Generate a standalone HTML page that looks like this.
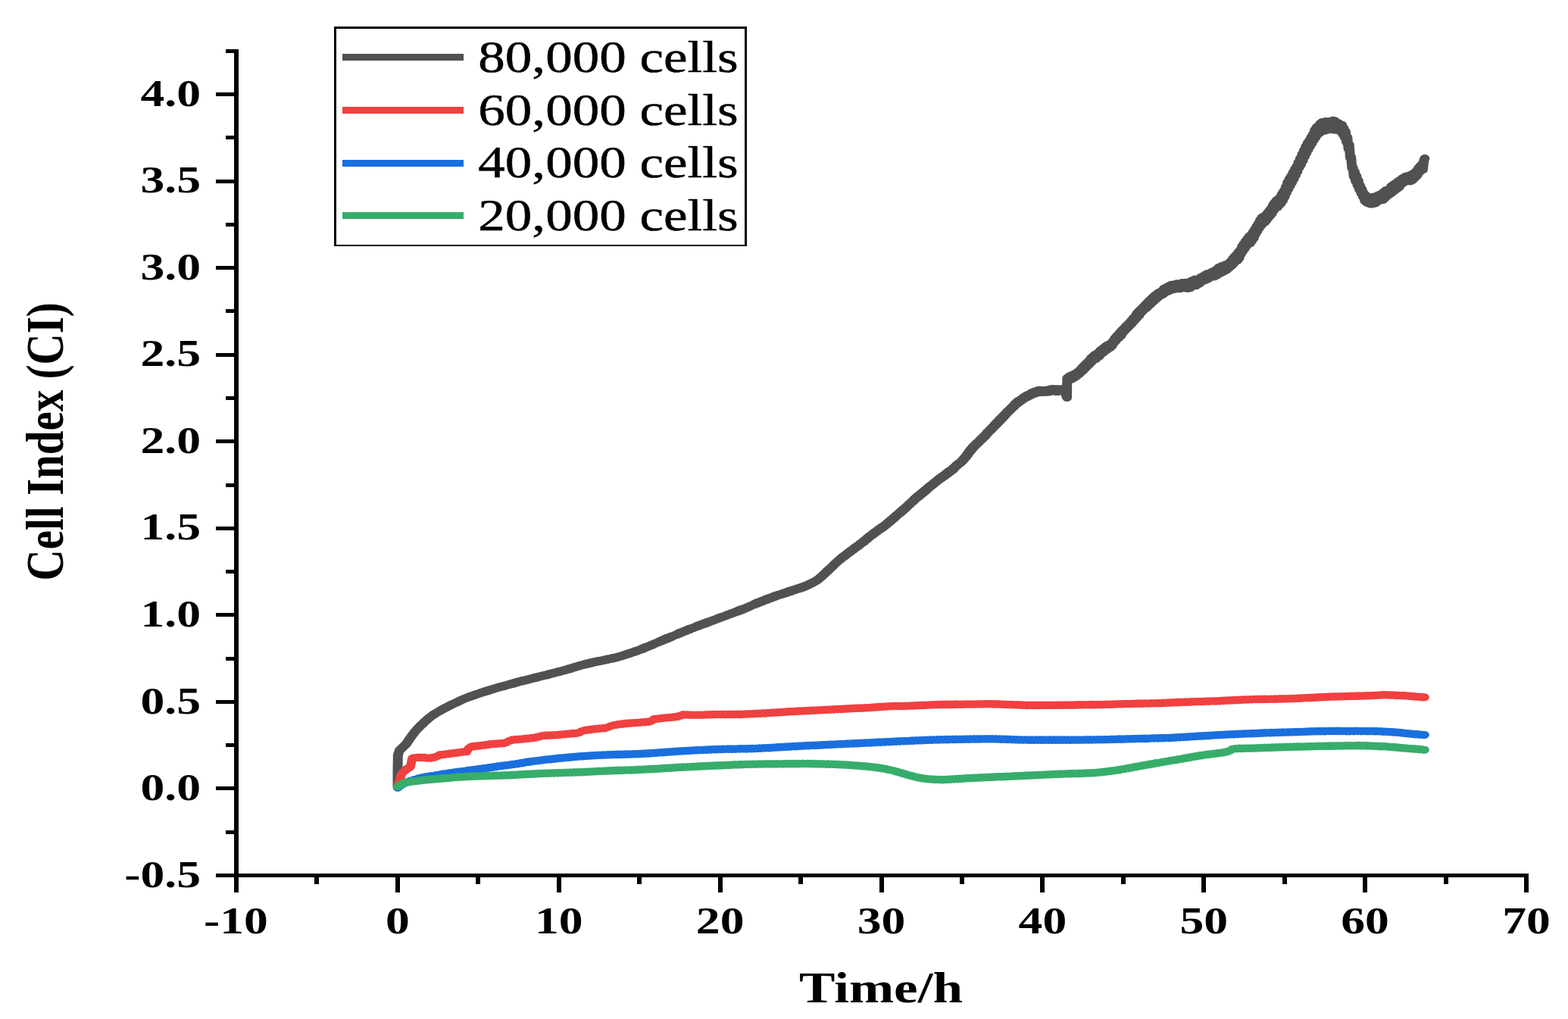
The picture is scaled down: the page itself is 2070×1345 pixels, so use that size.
<!DOCTYPE html>
<html lang="en">
<head>
<meta charset="utf-8">
<title>Cell Index (CI) vs Time/h</title>
<style>html,body{margin:0;padding:0;background:#fff;width:2070px;height:1345px;}svg{display:block;}text{font-family:"Liberation Serif","DejaVu Serif",serif;fill:#000;}.b{font-weight:bold;}.r{stroke:#000;stroke-width:0.5px;}</style>
</head>
<body>
<svg width="2070" height="1345" viewBox="0 0 1725.0000 1345" preserveAspectRatio="none">
<rect x="0" y="0" width="1725.0000" height="1345" fill="#ffffff"/>
<g fill="none" stroke-linecap="round" stroke-linejoin="round">
<path d="M437.5,1039.0 L437.5,1013.3 L437.8,996.7 L439.6,990.3 L447.2,981.7 L448.2,979.5 L449.2,978.1 L450.2,975.9 L451.2,974.6 L452.2,972.4 L453.2,971.3 L454.2,969.2 L455.2,968.1 L456.2,966.0 L457.2,965.1 L458.2,963.2 L459.2,962.4 L460.2,960.6 L461.2,959.9 L462.2,958.2 L463.2,957.6 L464.2,955.9 L465.2,955.4 L466.2,953.7 L467.2,953.1 L468.2,951.4 L469.2,950.9 L470.2,949.2 L471.2,948.7 L472.2,947.2 L473.2,946.8 L474.2,945.4 L475.2,945.1 L476.2,943.6 L477.2,943.4 L478.2,942.1 L479.2,941.9 L480.2,940.7 L481.2,940.4 L482.2,939.2 L483.2,938.9 L484.2,937.8 L485.2,937.7 L486.2,936.4 L487.2,936.4 L488.2,935.1 L489.2,935.1 L490.2,933.8 L491.2,933.8 L492.2,932.6 L493.2,932.6 L494.2,931.4 L495.2,931.3 L496.2,930.2 L497.2,930.1 L498.2,929.1 L499.2,929.0 L500.2,928.0 L501.2,927.9 L502.2,926.9 L503.2,926.8 L504.2,925.7 L505.2,925.6 L506.2,924.5 L507.2,924.5 L508.2,923.4 L509.2,923.4 L510.2,922.3 L511.2,922.4 L512.2,921.3 L513.2,921.4 L514.2,920.3 L515.2,920.5 L516.2,919.5 L517.2,919.6 L518.2,918.6 L519.2,918.8 L520.2,917.8 L521.2,918.0 L522.2,916.9 L523.2,917.1 L524.2,916.1 L525.2,916.3 L526.2,915.3 L527.2,915.5 L528.2,914.5 L529.2,914.7 L530.2,913.8 L531.2,913.9 L532.2,913.0 L533.2,913.1 L534.2,912.2 L535.2,912.5 L536.2,911.4 L537.2,911.8 L538.2,910.7 L539.2,911.0 L540.2,910.0 L541.2,910.2 L542.2,909.2 L543.2,909.5 L544.2,908.5 L545.2,908.7 L546.2,907.8 L547.2,908.0 L548.2,907.1 L549.2,907.3 L550.2,906.5 L551.2,906.7 L552.2,905.8 L553.2,906.0 L554.2,905.2 L555.2,905.5 L556.2,904.6 L557.2,904.8 L558.2,903.9 L559.2,904.1 L560.2,903.2 L561.2,903.4 L562.2,902.5 L563.2,902.8 L564.2,901.8 L565.2,902.2 L566.2,901.1 L567.2,901.5 L568.2,900.5 L569.2,900.8 L570.2,899.7 L571.2,900.0 L572.2,899.1 L573.2,899.4 L574.2,898.5 L575.2,899.0 L576.2,898.1 L577.2,898.4 L578.2,897.5 L579.2,897.8 L580.2,896.9 L581.2,897.2 L582.1,896.3 L583.1,896.6 L584.1,895.7 L585.1,895.9 L586.1,894.9 L587.1,895.3 L588.1,894.3 L589.1,894.7 L590.1,893.9 L591.1,894.2 L592.1,893.3 L593.1,893.6 L594.1,892.7 L595.1,892.8 L596.1,892.0 L597.1,892.2 L598.1,891.4 L599.1,891.6 L600.1,890.9 L601.1,891.3 L602.1,890.3 L603.1,890.7 L604.1,889.7 L605.1,889.9 L606.1,889.0 L607.1,889.3 L608.1,888.4 L609.1,888.7 L610.1,887.8 L611.1,888.0 L612.1,887.2 L613.1,887.4 L614.1,886.5 L615.1,886.9 L616.1,886.0 L617.1,886.3 L618.1,885.4 L619.1,885.6 L620.1,884.7 L621.1,885.0 L622.1,884.0 L623.1,884.3 L624.1,883.3 L625.1,883.6 L626.1,882.5 L627.1,882.9 L628.1,881.8 L629.1,882.2 L630.1,881.1 L631.1,881.4 L632.1,880.3 L633.1,880.6 L634.1,879.6 L635.1,879.9 L636.1,878.9 L637.1,879.2 L638.1,878.2 L639.1,878.5 L640.1,877.6 L641.1,877.9 L642.1,876.9 L643.1,877.2 L644.1,876.3 L645.1,876.8 L646.1,875.8 L647.1,876.2 L648.1,875.2 L649.1,875.6 L650.1,874.5 L651.1,875.0 L652.1,873.9 L653.1,874.4 L654.1,873.4 L655.1,873.8 L656.1,872.9 L657.1,873.4 L658.1,872.5 L659.1,872.9 L660.1,872.1 L661.1,872.6 L662.1,871.7 L663.1,872.1 L664.1,871.2 L665.1,871.5 L666.1,870.5 L667.1,871.0 L668.1,870.0 L669.1,870.5 L670.1,869.6 L671.1,869.9 L672.1,869.1 L673.1,869.4 L674.1,868.5 L675.1,869.0 L676.1,868.1 L677.1,868.4 L678.1,867.5 L679.1,867.8 L680.1,866.8 L681.1,867.1 L682.1,866.2 L683.1,866.4 L684.1,865.4 L685.1,865.7 L686.1,864.6 L687.1,864.9 L688.1,863.8 L689.1,864.1 L690.1,863.0 L691.1,863.3 L692.1,862.2 L693.1,862.5 L694.1,861.4 L695.1,861.7 L696.1,860.6 L697.1,860.9 L698.1,859.8 L699.1,860.1 L700.1,859.1 L701.1,859.3 L702.1,858.2 L703.1,858.4 L704.1,857.3 L705.1,857.5 L706.1,856.2 L707.1,856.6 L708.1,855.3 L709.1,855.6 L710.1,854.3 L711.1,854.5 L712.1,853.4 L713.1,853.5 L714.1,852.4 L715.1,852.7 L716.1,851.4 L717.1,851.7 L718.1,850.4 L719.1,850.7 L720.1,849.3 L721.1,849.4 L722.1,848.3 L723.1,848.4 L724.1,847.3 L725.1,847.6 L726.1,846.3 L727.1,846.6 L728.1,845.2 L729.1,845.6 L730.1,844.1 L731.1,844.5 L732.1,843.1 L733.1,843.5 L734.1,842.1 L735.1,842.6 L736.1,841.3 L737.1,841.6 L738.1,840.3 L739.1,840.6 L740.1,839.3 L741.1,839.4 L742.1,838.3 L743.1,838.4 L744.1,837.3 L745.1,837.5 L746.1,836.1 L747.1,836.5 L748.1,835.1 L749.1,835.5 L750.1,834.2 L751.1,834.5 L752.1,833.2 L753.1,833.5 L754.1,832.3 L755.1,832.6 L756.1,831.3 L757.1,831.6 L758.1,830.3 L759.1,830.7 L760.1,829.5 L761.1,829.7 L762.1,828.6 L763.1,828.8 L764.1,827.7 L765.1,827.9 L766.1,826.6 L767.1,827.0 L768.0,825.7 L769.0,826.1 L770.0,824.8 L771.0,825.1 L772.0,823.9 L773.0,824.2 L774.0,823.1 L775.0,823.5 L776.0,822.2 L777.0,822.6 L778.0,821.3 L779.0,821.7 L780.0,820.5 L781.0,820.8 L782.0,819.6 L783.0,819.9 L784.0,818.7 L785.0,819.0 L786.0,817.9 L787.0,818.1 L788.0,817.0 L789.0,817.2 L790.0,815.9 L791.0,816.2 L792.0,815.0 L793.0,815.3 L794.0,814.1 L795.0,814.4 L796.0,813.4 L797.0,813.6 L798.0,812.5 L799.0,812.7 L800.0,811.5 L801.0,811.8 L802.0,810.6 L803.0,810.9 L804.0,809.7 L805.0,810.0 L806.0,808.9 L807.0,809.1 L808.0,808.0 L809.0,808.2 L810.0,807.0 L811.0,807.4 L812.0,806.0 L813.0,806.5 L814.0,805.1 L815.0,805.6 L816.0,804.3 L817.0,804.7 L818.0,803.4 L819.0,803.7 L820.0,802.4 L821.0,802.7 L822.0,801.4 L823.0,801.7 L824.0,800.4 L825.0,800.5 L826.0,799.3 L827.0,799.4 L828.0,798.3 L829.0,798.4 L830.0,797.1 L831.0,797.5 L832.0,796.1 L833.0,796.5 L834.0,795.1 L835.0,795.7 L836.0,794.3 L837.0,794.7 L838.0,793.3 L839.0,793.7 L840.0,792.2 L841.0,792.6 L842.0,791.3 L843.0,791.7 L844.0,790.4 L845.0,790.9 L846.0,789.6 L847.0,790.0 L848.0,788.7 L849.0,789.1 L850.0,787.8 L851.0,788.3 L852.0,786.9 L853.0,787.4 L854.0,786.0 L855.0,786.5 L856.0,785.2 L857.0,785.6 L858.0,784.4 L859.0,784.8 L860.0,783.7 L861.0,784.2 L862.0,782.9 L863.0,783.4 L864.0,782.0 L865.0,782.6 L866.0,781.3 L867.0,781.7 L868.0,780.4 L869.0,780.9 L870.0,779.6 L871.0,780.1 L872.0,778.8 L873.0,779.4 L874.0,778.0 L875.0,778.6 L876.0,777.2 L877.0,777.7 L878.0,776.5 L879.0,777.0 L880.0,775.7 L881.0,776.4 L882.0,775.0 L883.0,775.5 L884.0,774.1 L885.0,774.6 L886.0,773.1 L887.0,773.5 L888.0,772.1 L889.0,772.4 L890.0,771.0 L891.0,771.4 L892.0,770.0 L893.0,770.2 L894.0,768.7 L895.0,768.9 L896.0,767.4 L897.0,767.5 L898.0,765.9 L899.0,766.0 L900.0,764.3 L901.0,764.3 L902.0,762.4 L903.0,762.3 L904.0,760.4 L905.0,760.2 L906.0,758.1 L907.0,757.8 L908.0,755.8 L909.0,755.5 L910.0,753.5 L911.0,753.5 L912.0,751.4 L913.0,751.2 L914.0,749.2 L915.0,749.0 L916.0,746.8 L917.0,746.5 L918.0,744.5 L919.0,744.2 L920.0,742.2 L921.0,742.0 L922.0,740.1 L923.0,740.0 L924.0,738.1 L925.0,738.0 L926.0,736.0 L927.0,736.1 L928.0,734.2 L929.0,734.3 L930.0,732.3 L931.0,732.4 L932.0,730.5 L933.0,730.7 L934.0,728.7 L935.0,728.9 L936.0,726.9 L937.0,727.1 L938.0,725.1 L939.0,725.3 L940.0,723.3 L941.0,723.6 L942.0,721.7 L943.0,721.7 L944.0,719.8 L945.0,719.9 L946.0,718.0 L947.0,718.1 L948.0,716.1 L949.0,716.3 L950.0,714.2 L951.0,714.5 L952.0,712.2 L953.0,712.6 L953.9,710.3 L954.9,710.8 L955.9,708.5 L956.9,708.6 L957.9,706.7 L958.9,706.8 L959.9,704.8 L960.9,705.1 L961.9,702.9 L962.9,703.4 L963.9,701.1 L964.9,701.6 L965.9,699.4 L966.9,699.7 L967.9,697.7 L968.9,698.0 L969.9,695.9 L970.9,696.6 L971.9,694.3 L972.9,694.8 L973.9,692.5 L974.9,693.0 L975.9,690.4 L976.9,691.0 L977.9,688.4 L978.9,689.1 L979.9,686.4 L980.9,687.0 L981.9,684.4 L982.9,684.9 L983.9,682.3 L984.9,682.8 L985.9,680.2 L986.9,680.6 L987.9,678.1 L988.9,678.5 L989.9,676.0 L990.9,676.8 L991.9,674.0 L992.9,674.7 L993.9,671.8 L994.9,672.5 L995.9,669.8 L996.9,670.3 L997.9,667.7 L998.9,668.1 L999.9,665.5 L1000.9,665.7 L1001.9,663.2 L1002.9,663.6 L1003.9,661.0 L1004.9,661.5 L1005.9,658.6 L1006.9,659.2 L1007.9,656.5 L1008.9,657.1 L1009.9,654.4 L1010.9,655.5 L1011.9,652.6 L1012.9,653.5 L1013.9,650.6 L1014.9,651.5 L1015.9,648.5 L1016.9,649.5 L1017.9,646.5 L1018.9,647.5 L1019.9,644.5 L1020.9,645.0 L1021.9,642.5 L1022.9,643.1 L1023.9,640.6 L1024.9,641.2 L1025.9,638.7 L1026.9,639.4 L1027.9,636.8 L1028.9,637.5 L1029.9,634.8 L1030.9,635.5 L1031.9,632.8 L1032.9,633.6 L1033.9,630.9 L1034.9,631.8 L1035.9,629.3 L1036.9,630.3 L1037.9,627.6 L1038.9,628.6 L1039.9,625.8 L1040.9,626.8 L1041.9,623.8 L1042.9,625.0 L1043.9,622.0 L1044.9,623.2 L1045.9,620.6 L1046.9,621.5 L1047.9,618.6 L1048.9,619.6 L1049.9,616.6 L1050.9,616.9 L1051.9,614.2 L1052.9,614.8 L1053.9,612.1 L1054.9,612.7 L1055.9,610.4 L1056.9,610.9 L1057.9,608.1 L1058.9,608.6 L1059.9,605.6 L1060.9,606.1 L1061.9,602.7 L1062.9,603.3 L1063.9,599.5 L1064.9,600.0 L1065.9,595.9 L1066.9,596.6 L1067.9,592.9 L1068.9,593.8 L1069.9,590.2 L1070.9,590.9 L1071.9,587.8 L1072.9,588.4 L1073.9,585.4 L1074.9,586.1 L1075.9,583.3 L1076.9,583.9 L1077.9,580.9 L1078.9,581.5 L1079.9,578.5 L1080.9,579.4 L1081.9,576.2 L1082.9,577.0 L1083.9,573.8 L1084.9,574.6 L1085.9,571.0 L1086.9,571.6 L1087.9,568.5 L1088.9,569.1 L1089.9,566.0 L1090.9,567.1 L1091.9,563.6 L1092.9,564.5 L1093.9,561.1 L1094.9,562.0 L1095.9,558.4 L1096.9,559.6 L1097.9,555.9 L1098.9,557.0 L1099.9,553.3 L1100.9,554.7 L1101.9,550.8 L1102.9,552.2 L1103.9,548.3 L1104.9,549.7 L1105.9,546.0 L1106.9,546.9 L1107.9,543.6 L1108.9,544.5 L1109.9,541.3 L1110.9,542.0 L1111.9,538.8 L1112.9,539.7 L1113.9,536.6 L1114.9,537.5 L1115.9,533.8 L1116.9,535.0 L1117.9,531.6 L1118.9,532.9 L1119.9,529.5 L1120.9,531.2 L1121.9,528.2 L1122.9,529.5 L1123.9,526.5 L1124.9,527.8 L1125.9,524.6 L1126.9,526.1 L1127.9,523.1 L1128.9,524.6 L1129.9,521.7 L1130.9,523.6 L1131.9,520.6 L1132.9,522.3 L1133.9,519.2 L1134.9,521.0 L1135.9,517.9 L1136.9,520.0 L1137.9,517.0 L1138.9,519.2 L1139.8,516.2 L1140.8,518.4 L1141.8,515.4 L1142.8,517.9 L1143.8,515.0 L1144.8,517.6 L1145.8,515.4 L1146.8,517.5 L1147.8,515.3 L1148.8,517.4 L1149.8,515.2 L1150.8,517.5 L1151.8,514.8 L1152.8,517.3 L1153.8,514.5 L1154.8,517.0 L1155.8,513.7 L1156.8,516.0 L1157.8,513.5 L1158.8,516.0 L1159.8,513.5 L1160.8,516.5 L1161.8,513.7 L1162.8,516.5 L1163.8,513.6 L1164.8,516.5 L1165.8,513.6 L1166.8,516.2 L1167.8,513.6 L1168.8,516.2 L1169.8,513.6 L1170.8,515.0 L1173.8,524.6 L1174.0,499.0 L1175.4,499.2 L1176.4,496.7 L1177.4,501.1 L1178.4,495.6 L1179.4,499.9 L1180.4,494.7 L1181.4,498.6 L1182.4,493.5 L1183.4,497.3 L1184.4,492.2 L1185.4,495.3 L1186.4,490.3 L1187.4,493.4 L1188.4,488.2 L1189.4,491.1 L1190.4,485.4 L1191.4,489.2 L1192.4,482.8 L1193.4,486.7 L1194.4,480.5 L1195.4,484.2 L1196.4,478.1 L1197.4,481.9 L1198.4,475.8 L1199.4,479.6 L1200.4,472.7 L1201.4,476.9 L1202.4,470.5 L1203.4,474.7 L1204.4,468.3 L1205.4,473.8 L1206.4,467.3 L1207.4,471.8 L1208.4,465.3 L1209.4,469.9 L1210.4,462.9 L1211.4,467.2 L1212.4,461.0 L1213.4,465.4 L1214.4,459.2 L1215.4,463.5 L1216.4,457.1 L1217.4,461.8 L1218.4,455.5 L1219.4,460.1 L1220.4,454.9 L1221.4,458.5 L1222.4,452.9 L1223.4,456.4 L1224.4,450.5 L1225.4,452.8 L1226.4,446.7 L1227.4,450.0 L1228.4,443.8 L1229.4,447.1 L1230.4,441.3 L1231.4,445.3 L1232.4,438.5 L1233.4,442.6 L1234.4,435.8 L1235.4,439.1 L1236.4,433.6 L1237.4,436.4 L1238.4,430.9 L1239.4,433.8 L1240.4,428.7 L1241.4,431.6 L1242.4,426.1 L1243.4,429.0 L1244.4,423.4 L1245.4,426.5 L1246.4,420.7 L1247.4,423.9 L1248.4,418.1 L1249.4,421.3 L1250.4,414.2 L1251.4,418.6 L1252.4,411.6 L1253.4,416.0 L1254.4,409.0 L1255.4,412.6 L1256.4,406.8 L1257.4,410.1 L1258.4,404.3 L1259.4,407.7 L1260.4,401.8 L1261.4,406.3 L1262.4,399.3 L1263.4,403.8 L1264.4,396.8 L1265.4,401.8 L1266.4,394.8 L1267.4,399.4 L1268.4,392.4 L1269.4,397.1 L1270.4,390.4 L1271.4,394.9 L1272.4,388.4 L1273.4,393.0 L1274.4,386.6 L1275.4,391.0 L1276.4,385.4 L1277.4,389.5 L1278.4,384.0 L1279.4,388.2 L1280.4,381.1 L1281.4,386.3 L1282.4,379.8 L1283.4,385.0 L1284.4,378.6 L1285.4,384.2 L1286.4,377.3 L1287.4,383.1 L1288.4,376.2 L1289.4,382.1 L1290.4,376.1 L1291.4,381.6 L1292.4,375.3 L1293.4,381.0 L1294.4,374.7 L1295.4,381.0 L1296.4,374.7 L1297.4,380.8 L1298.4,374.4 L1299.4,380.6 L1300.4,373.5 L1301.4,379.3 L1302.4,373.3 L1303.4,379.1 L1304.4,373.1 L1305.4,380.5 L1306.4,373.2 L1307.4,380.3 L1308.4,372.8 L1309.4,379.9 L1310.4,371.1 L1311.4,377.9 L1312.4,370.2 L1313.4,376.9 L1314.4,369.0 L1315.4,376.9 L1316.4,369.6 L1317.4,375.6 L1318.4,368.3 L1319.4,374.3 L1320.4,366.6 L1321.4,372.0 L1322.4,365.4 L1323.4,370.8 L1324.4,364.2 L1325.4,370.0 L1326.4,362.5 L1327.4,368.8 L1328.4,361.3 L1329.4,367.6 L1330.4,360.8 L1331.4,366.0 L1332.4,359.6 L1333.4,364.8 L1334.4,358.3 L1335.4,365.0 L1336.4,357.2 L1337.4,363.8 L1338.4,356.1 L1339.4,362.8 L1340.4,353.4 L1341.4,360.9 L1342.4,352.3 L1343.4,359.8 L1344.4,351.2 L1345.4,358.7 L1346.4,350.7 L1347.4,357.4 L1348.4,349.3 L1349.4,356.0 L1350.4,348.6 L1351.4,354.1 L1352.4,346.7 L1353.4,352.1 L1354.4,344.5 L1355.4,349.9 L1356.4,341.3 L1357.4,347.4 L1358.4,338.6 L1359.4,344.7 L1360.4,336.0 L1361.4,343.5 L1362.4,333.0 L1363.4,340.5 L1364.4,329.9 L1365.4,335.0 L1366.4,325.2 L1367.4,331.2 L1368.4,321.6 L1369.4,327.9 L1370.4,318.1 L1371.4,324.4 L1372.4,315.0 L1373.4,321.4 L1374.4,312.0 L1375.4,320.8 L1376.4,309.8 L1377.4,317.6 L1378.4,306.4 L1379.4,314.1 L1380.4,302.7 L1381.4,308.6 L1382.4,298.7 L1383.4,304.8 L1384.4,294.9 L1385.4,300.8 L1386.4,290.1 L1387.4,297.6 L1388.4,287.0 L1389.4,294.7 L1390.4,286.7 L1391.4,293.1 L1392.4,284.0 L1393.4,290.4 L1394.4,281.2 L1395.4,287.2 L1396.4,278.2 L1397.4,284.4 L1398.4,275.2 L1399.4,281.5 L1400.4,270.4 L1401.4,277.4 L1402.4,267.4 L1403.4,274.5 L1404.4,264.5 L1405.4,273.2 L1406.4,262.8 L1407.4,270.6 L1408.4,260.2 L1409.4,267.9 L1410.4,255.7 L1411.4,264.2 L1412.4,251.8 L1413.4,259.7 L1414.4,246.8 L1415.4,254.1 L1416.4,240.7 L1417.4,249.3 L1418.4,236.1 L1419.4,245.0 L1420.4,232.3 L1421.4,240.5 L1422.4,227.9 L1423.4,236.2 L1424.4,223.4 L1425.4,231.3 L1426.4,219.4 L1427.4,226.2 L1428.4,214.0 L1429.4,220.8 L1430.4,208.9 L1431.4,216.8 L1432.4,203.7 L1433.4,211.8 L1434.4,198.7 L1435.4,206.3 L1436.4,193.4 L1437.4,201.6 L1438.4,188.8 L1439.4,197.1 L1440.4,185.4 L1441.4,192.8 L1442.4,181.2 L1443.4,188.7 L1444.4,177.1 L1445.4,184.7 L1446.4,171.5 L1447.4,181.2 L1448.4,168.0 L1449.4,177.6 L1450.4,166.1 L1451.4,175.5 L1452.4,163.1 L1453.4,173.1 L1454.4,161.5 L1455.4,172.9 L1456.4,161.2 L1457.4,172.2 L1458.4,160.5 L1459.4,171.6 L1460.4,160.8 L1461.4,170.4 L1462.4,160.5 L1463.4,170.2 L1464.4,160.4 L1465.4,170.9 L1466.4,159.2 L1467.4,171.0 L1468.4,159.7 L1469.4,171.3 L1470.4,161.7 L1471.4,171.3 L1472.4,162.5 L1473.4,172.2 L1474.4,164.3 L1475.4,174.0 L1476.4,165.0 L1477.4,177.5 L1478.4,169.3 L1479.4,181.7 L1480.4,174.0 L1481.4,187.9 L1482.4,181.5 L1483.4,196.3 L1484.4,191.4 L1485.4,208.4 L1486.4,207.2 L1487.4,222.0 L1488.4,221.2 L1489.4,233.4 L1490.4,226.9 L1491.4,239.2 L1492.4,232.7 L1493.4,244.9 L1494.4,238.6 L1495.4,249.9 L1496.4,245.3 L1497.4,255.1 L1498.4,250.1 L1499.4,259.7 L1500.4,255.3 L1501.4,264.9 L1502.4,257.8 L1503.4,267.0 L1504.4,259.8 L1505.4,268.2 L1506.4,261.6 L1507.4,269.2 L1508.4,262.1 L1509.4,269.2 L1510.4,260.2 L1511.4,268.7 L1512.4,259.7 L1513.4,268.0 L1514.4,259.0 L1515.4,265.5 L1516.4,257.9 L1517.4,264.6 L1518.4,256.7 L1519.4,263.0 L1520.4,255.5 L1521.4,263.6 L1522.4,253.5 L1523.4,261.5 L1524.4,251.5 L1525.4,259.1 L1526.4,251.5 L1527.4,257.4 L1528.4,249.8 L1529.4,255.7 L1530.4,246.1 L1531.4,253.8 L1532.4,244.5 L1533.4,252.1 L1534.4,242.8 L1535.4,250.2 L1536.4,241.1 L1537.4,248.4 L1538.4,239.3 L1539.4,246.6 L1540.4,237.6 L1541.4,243.2 L1542.4,235.9 L1543.4,241.6 L1544.4,234.4 L1545.4,240.1 L1546.4,233.2 L1547.4,239.1 L1548.4,232.3 L1549.4,238.2 L1550.4,231.8 L1551.4,239.0 L1552.4,230.8 L1553.4,237.8 L1554.4,229.5 L1555.4,235.8 L1556.4,228.1 L1557.4,233.6 L1558.4,225.7 L1559.4,231.0 L1560.4,222.0 L1561.4,227.3 L1562.4,219.3 L1563.4,224.9 L1564.4,216.7 L1565.4,223.9 L1566.4,212.4 L1567.4,209.2" stroke="#515151" stroke-width="10.8"/>
<path d="M437.5,1039.0 L439.5,1030.5 L441.5,1022.6 L443.5,1019.0 L445.5,1017.4 L447.5,1014.5 L449.5,1013.9 L451.5,1012.0 L453.5,1001.0 L455.5,1000.2 L457.5,1000.4 L459.5,999.7 L461.5,1000.1 L463.5,999.5 L465.5,1000.1 L467.5,999.7 L469.5,1000.7 L471.5,1000.4 L473.5,1000.8 L475.5,999.8 L477.5,999.9 L479.5,998.7 L481.5,998.0 L483.5,996.3 L485.5,996.5 L487.5,995.7 L489.5,995.9 L491.5,995.0 L493.5,995.3 L495.5,994.3 L497.5,994.7 L499.5,993.8 L501.5,994.1 L503.5,993.2 L505.5,993.5 L507.5,992.6 L509.5,992.8 L511.5,991.9 L513.5,992.2 L515.5,987.9 L517.5,986.0 L519.5,985.0 L521.5,985.5 L523.5,984.5 L525.5,984.9 L527.5,984.0 L529.5,984.2 L531.5,983.3 L533.5,983.7 L535.5,982.7 L537.5,983.0 L539.5,982.0 L541.5,982.4 L543.5,981.6 L545.5,982.0 L547.5,981.3 L549.5,981.6 L551.5,980.9 L553.5,981.3 L555.5,980.5 L557.5,979.9 L559.5,978.1 L561.5,977.6 L563.5,976.3 L565.5,976.7 L567.5,975.8 L569.5,976.3 L571.5,975.6 L573.5,975.9 L575.5,975.1 L577.5,975.5 L579.5,974.6 L581.5,974.9 L583.5,974.0 L585.5,974.4 L587.5,973.5 L589.5,973.8 L591.5,972.6 L593.5,972.5 L595.5,971.3 L597.5,971.2 L599.5,970.6 L601.5,971.0 L603.5,970.3 L605.5,970.8 L607.5,970.1 L609.5,970.6 L611.5,969.9 L613.5,970.2 L615.5,969.5 L617.5,969.8 L619.5,969.1 L621.5,969.4 L623.5,968.5 L625.5,968.9 L627.5,968.1 L629.5,968.5 L631.5,967.8 L633.5,968.2 L635.5,967.3 L637.5,967.1 L639.5,965.3 L641.5,964.6 L643.5,963.7 L645.5,963.9 L647.5,963.0 L649.5,963.3 L651.5,962.3 L653.5,962.7 L655.5,961.8 L657.5,962.2 L659.5,961.3 L661.5,961.7 L663.5,960.9 L665.5,961.2 L667.5,960.2 L669.5,959.8 L671.5,958.3 L673.5,957.9 L675.5,956.9 L677.5,957.1 L679.5,956.1 L681.5,956.3 L683.5,955.4 L685.5,955.7 L687.5,954.7 L689.5,955.2 L691.5,954.3 L693.5,954.8 L695.5,954.1 L697.5,954.4 L699.5,953.8 L701.5,954.1 L703.5,953.4 L705.5,953.8 L707.5,952.9 L709.5,953.4 L711.5,952.5 L713.5,953.0 L715.5,952.1 L717.5,951.0 L719.5,949.0 L721.5,949.3 L723.5,948.4 L725.5,948.6 L727.5,947.7 L729.5,948.1 L731.5,947.3 L733.5,947.6 L735.5,946.9 L737.5,947.2 L739.5,946.4 L741.5,946.7 L743.5,945.8 L745.5,946.2 L747.5,944.8 L749.5,944.5 L751.5,943.1 L753.5,943.8 L755.5,943.2 L757.5,943.8 L759.5,943.4 L761.5,944.0 L763.5,943.5 L765.5,944.0 L767.5,943.5 L769.5,943.9 L771.5,943.4 L773.5,943.8 L775.5,943.2 L777.5,943.7 L779.5,943.0 L781.5,943.5 L783.5,942.9 L785.5,943.4 L787.5,942.7 L789.5,943.3 L791.5,942.7 L793.5,943.3 L795.5,942.7 L797.5,943.4 L799.5,942.7 L801.5,943.2 L803.5,942.7 L805.5,943.2 L807.5,942.5 L809.5,943.1 L811.5,942.6 L813.5,943.2 L815.5,942.5 L817.5,943.0 L819.5,942.3 L821.5,942.8 L823.5,942.1 L825.5,942.6 L827.5,941.9 L829.5,942.4 L831.5,941.7 L833.5,942.2 L835.5,941.4 L837.5,941.9 L839.5,941.1 L841.5,941.8 L843.5,941.0 L845.4,941.3 L847.4,940.7 L849.4,941.0 L851.4,940.3 L853.4,940.8 L855.4,940.1 L857.4,940.5 L859.4,939.8 L861.4,940.2 L863.4,939.5 L865.4,939.8 L867.4,939.0 L869.4,939.5 L871.4,938.8 L873.4,939.3 L875.4,938.6 L877.4,939.0 L879.4,938.3 L881.4,938.8 L883.4,938.1 L885.4,938.7 L887.4,937.9 L889.4,938.4 L891.4,937.6 L893.4,938.0 L895.4,937.4 L897.4,937.9 L899.4,937.2 L901.4,937.6 L903.4,937.0 L905.4,937.3 L907.4,936.7 L909.4,937.1 L911.4,936.5 L913.4,936.9 L915.4,936.2 L917.4,936.7 L919.4,935.9 L921.4,936.4 L923.4,935.7 L925.4,936.3 L927.4,935.5 L929.4,936.0 L931.4,935.2 L933.4,935.7 L935.4,934.9 L937.4,935.4 L939.4,934.6 L941.4,935.1 L943.4,934.5 L945.4,935.0 L947.4,934.3 L949.4,934.8 L951.4,934.1 L953.4,934.5 L955.4,933.9 L957.4,934.2 L959.4,933.6 L961.4,933.9 L963.4,933.1 L965.4,933.5 L967.4,932.8 L969.4,933.2 L971.4,932.5 L973.4,933.0 L975.4,932.2 L977.4,932.6 L979.4,931.9 L981.4,932.3 L983.4,931.7 L985.4,932.2 L987.4,931.7 L989.4,932.2 L991.4,931.7 L993.4,932.3 L995.4,931.5 L997.4,932.1 L999.4,931.4 L1001.4,931.9 L1003.4,931.2 L1005.4,931.7 L1007.4,931.0 L1009.4,931.5 L1011.4,930.7 L1013.4,931.2 L1015.4,930.6 L1017.4,931.2 L1019.4,930.4 L1021.4,930.8 L1023.4,930.1 L1025.4,930.6 L1027.4,930.0 L1029.4,930.4 L1031.4,929.8 L1033.4,930.3 L1035.4,929.6 L1037.4,930.2 L1039.4,929.6 L1041.4,930.2 L1043.4,929.6 L1045.4,930.2 L1047.4,929.5 L1049.4,930.1 L1051.4,929.3 L1053.4,930.0 L1055.4,929.5 L1057.4,930.0 L1059.4,929.4 L1061.4,929.8 L1063.4,929.2 L1065.4,929.8 L1067.4,929.2 L1069.4,929.8 L1071.4,929.2 L1073.4,929.8 L1075.4,929.2 L1077.4,929.6 L1079.4,929.1 L1081.4,929.6 L1083.4,928.9 L1085.4,929.4 L1087.4,928.9 L1089.4,929.4 L1091.4,929.0 L1093.4,929.7 L1095.4,929.0 L1097.4,929.7 L1099.4,929.2 L1101.4,929.9 L1103.4,929.4 L1105.4,930.1 L1107.4,929.7 L1109.4,930.3 L1111.4,929.7 L1113.4,930.4 L1115.4,929.9 L1117.4,930.6 L1119.4,930.1 L1121.4,930.7 L1123.4,930.2 L1125.4,931.0 L1127.4,930.5 L1129.4,931.2 L1131.4,930.5 L1133.4,931.1 L1135.4,930.5 L1137.4,931.2 L1139.4,930.5 L1141.4,931.2 L1143.4,930.6 L1145.4,931.1 L1147.4,930.5 L1149.4,931.1 L1151.4,930.5 L1153.4,931.1 L1155.4,930.5 L1157.4,931.1 L1159.4,930.4 L1161.4,931.1 L1163.4,930.5 L1165.4,931.0 L1167.4,930.4 L1169.4,931.0 L1171.4,930.4 L1173.4,931.0 L1175.4,930.3 L1177.4,930.8 L1179.4,930.3 L1181.4,930.9 L1183.4,930.2 L1185.4,930.7 L1187.4,930.1 L1189.4,930.6 L1191.4,930.0 L1193.4,930.6 L1195.4,929.9 L1197.4,930.6 L1199.4,929.8 L1201.4,930.4 L1203.4,929.8 L1205.4,930.4 L1207.4,929.7 L1209.4,930.3 L1211.4,929.8 L1213.4,930.3 L1215.4,929.6 L1217.4,930.1 L1219.4,929.4 L1221.4,930.1 L1223.4,929.3 L1225.4,929.8 L1227.4,929.2 L1229.4,929.6 L1231.4,929.0 L1233.4,929.5 L1235.4,928.9 L1237.4,929.4 L1239.4,928.7 L1241.4,929.3 L1243.4,928.7 L1245.4,929.1 L1247.4,928.5 L1249.4,929.0 L1251.4,928.4 L1253.4,929.0 L1255.4,928.3 L1257.4,928.9 L1259.4,928.2 L1261.4,928.8 L1263.4,928.2 L1265.4,928.7 L1267.4,927.9 L1269.4,928.6 L1271.4,928.0 L1273.4,928.5 L1275.4,927.8 L1277.4,928.4 L1279.4,927.6 L1281.4,928.1 L1283.4,927.5 L1285.4,927.9 L1287.4,927.1 L1289.4,927.7 L1291.4,927.0 L1293.4,927.5 L1295.4,926.7 L1297.4,927.2 L1299.4,926.6 L1301.4,927.1 L1303.4,926.3 L1305.4,926.9 L1307.4,926.3 L1309.4,926.8 L1311.4,926.0 L1313.4,926.5 L1315.4,925.9 L1317.4,926.4 L1319.4,925.7 L1321.4,926.3 L1323.4,925.6 L1325.4,926.0 L1327.4,925.4 L1329.4,925.9 L1331.4,925.3 L1333.4,925.7 L1335.4,925.2 L1337.4,925.7 L1339.4,925.0 L1341.4,925.5 L1343.4,924.7 L1345.4,925.2 L1347.4,924.4 L1349.4,924.9 L1351.4,924.2 L1353.4,924.7 L1355.4,923.9 L1357.4,924.5 L1359.4,923.7 L1361.4,924.4 L1363.4,923.6 L1365.4,924.0 L1367.4,923.3 L1369.4,923.7 L1371.4,923.2 L1373.4,923.6 L1375.4,922.9 L1377.4,923.4 L1379.4,922.7 L1381.4,923.3 L1383.4,922.7 L1385.4,923.2 L1387.4,922.6 L1389.4,923.1 L1391.4,922.5 L1393.4,923.1 L1395.4,922.5 L1397.4,923.0 L1399.4,922.4 L1401.4,922.9 L1403.4,922.3 L1405.4,922.8 L1407.4,922.1 L1409.4,922.7 L1411.4,922.0 L1413.4,922.6 L1415.4,922.0 L1417.4,922.5 L1419.4,921.9 L1421.4,922.3 L1423.4,921.7 L1425.4,922.2 L1427.4,921.4 L1429.4,922.0 L1431.4,921.2 L1433.4,921.7 L1435.4,920.9 L1437.4,921.4 L1439.4,920.7 L1441.4,921.3 L1443.4,920.5 L1445.4,921.1 L1447.4,920.3 L1449.4,920.8 L1451.4,920.0 L1453.4,920.4 L1455.4,919.9 L1457.4,920.3 L1459.4,919.6 L1461.4,920.0 L1463.4,919.4 L1465.4,919.8 L1467.4,919.1 L1469.4,919.7 L1471.4,919.2 L1473.4,919.6 L1475.4,919.0 L1477.4,919.5 L1479.4,918.9 L1481.4,919.3 L1483.4,918.7 L1485.4,919.2 L1487.4,918.6 L1489.4,919.1 L1491.4,918.4 L1493.4,919.0 L1495.4,918.3 L1497.4,918.8 L1499.4,918.2 L1501.4,918.7 L1503.4,918.1 L1505.4,918.6 L1507.4,917.9 L1509.4,918.4 L1511.4,917.7 L1513.4,918.1 L1515.4,917.5 L1517.4,917.9 L1519.4,917.2 L1521.4,917.5 L1523.4,916.9 L1525.4,917.6 L1527.4,917.1 L1529.4,917.8 L1531.4,917.2 L1533.4,917.9 L1535.4,917.5 L1537.4,918.3 L1539.4,917.7 L1541.4,918.3 L1543.4,917.9 L1545.4,918.5 L1547.4,918.2 L1549.4,918.9 L1551.4,918.6 L1553.4,919.3 L1555.4,919.0 L1557.4,919.8 L1559.4,919.4 L1561.4,920.1 L1563.4,919.7 L1565.4,920.5 L1567.4,920.3" stroke="#f14040" stroke-width="10"/>
<path d="M437.5,1039.8 L439.5,1037.6 L441.5,1036.4 L443.5,1034.5 L445.5,1033.8 L447.5,1032.1 L449.5,1031.8 L451.5,1030.5 L453.5,1030.4 L455.5,1029.0 L457.5,1028.9 L459.5,1027.6 L461.5,1027.4 L463.5,1026.3 L465.5,1026.4 L467.5,1025.3 L469.5,1025.5 L471.5,1024.6 L473.5,1024.8 L475.5,1023.9 L477.5,1024.2 L479.5,1023.1 L481.5,1023.4 L483.5,1022.3 L485.5,1022.4 L487.5,1021.3 L489.5,1021.6 L491.5,1020.7 L493.5,1020.9 L495.5,1019.9 L497.5,1020.1 L499.5,1019.2 L501.5,1019.5 L503.5,1018.5 L505.5,1019.0 L507.5,1018.1 L509.5,1018.4 L511.5,1017.4 L513.5,1017.8 L515.5,1016.6 L517.5,1016.9 L519.5,1015.9 L521.5,1016.2 L523.5,1015.4 L525.5,1015.5 L527.5,1014.7 L529.5,1014.9 L531.5,1014.1 L533.5,1014.4 L535.5,1013.4 L537.5,1013.7 L539.5,1012.7 L541.5,1013.0 L543.5,1012.0 L545.5,1012.3 L547.5,1011.2 L549.5,1011.6 L551.5,1010.6 L553.5,1011.0 L555.5,1010.1 L557.5,1010.4 L559.5,1009.4 L561.5,1009.7 L563.5,1008.8 L565.5,1009.1 L567.5,1008.1 L569.5,1008.4 L571.5,1007.3 L573.5,1007.5 L575.5,1006.4 L577.5,1006.7 L579.5,1005.6 L581.5,1006.0 L583.5,1004.9 L585.5,1005.2 L587.5,1004.3 L589.5,1004.6 L591.5,1003.8 L593.5,1004.1 L595.5,1003.2 L597.5,1003.4 L599.5,1002.6 L601.5,1002.8 L603.5,1002.0 L605.5,1002.5 L607.5,1001.5 L609.5,1002.0 L611.5,1001.0 L613.5,1001.3 L615.5,1000.5 L617.5,1000.9 L619.5,1000.0 L621.5,1000.4 L623.5,999.5 L625.5,1000.0 L627.5,999.2 L629.5,999.5 L631.5,998.7 L633.5,999.1 L635.5,998.3 L637.5,998.7 L639.5,997.9 L641.5,998.4 L643.5,997.7 L645.5,998.1 L647.5,997.3 L649.5,997.7 L651.5,997.0 L653.5,997.4 L655.5,996.8 L657.5,997.1 L659.5,996.5 L661.5,996.9 L663.5,996.3 L665.5,996.8 L667.5,996.1 L669.5,996.6 L671.5,995.8 L673.5,996.3 L675.5,995.7 L677.5,996.2 L679.5,995.5 L681.5,996.2 L683.5,995.4 L685.5,996.0 L687.5,995.3 L689.5,995.9 L691.5,995.2 L693.5,995.8 L695.5,995.1 L697.5,995.6 L699.5,994.9 L701.5,995.5 L703.5,994.7 L705.5,995.2 L707.5,994.5 L709.5,995.0 L711.5,994.2 L713.5,994.7 L715.5,994.0 L717.5,994.3 L719.5,993.6 L721.5,994.1 L723.5,993.3 L725.5,993.7 L727.5,992.9 L729.5,993.4 L731.5,992.6 L733.5,993.0 L735.5,992.3 L737.5,992.6 L739.5,991.9 L741.5,992.2 L743.5,991.5 L745.5,992.0 L747.5,991.3 L749.5,991.7 L751.5,990.9 L753.5,991.4 L755.5,990.7 L757.5,991.1 L759.5,990.5 L761.5,990.8 L763.5,990.1 L765.5,990.5 L767.5,989.9 L769.5,990.3 L771.5,989.7 L773.5,990.3 L775.5,989.4 L777.5,990.0 L779.5,989.2 L781.5,989.7 L783.5,989.0 L785.5,989.5 L787.5,988.8 L789.5,989.4 L791.5,988.7 L793.5,989.3 L795.5,988.5 L797.5,989.1 L799.5,988.4 L801.5,989.0 L803.5,988.3 L805.5,989.0 L807.5,988.4 L809.5,988.9 L811.5,988.2 L813.5,988.7 L815.5,988.1 L817.5,988.6 L819.5,988.0 L821.5,988.7 L823.5,987.9 L825.5,988.4 L827.5,987.8 L829.5,988.3 L831.5,987.7 L833.5,988.1 L835.5,987.3 L837.5,987.9 L839.5,987.1 L841.5,987.6 L843.5,986.9 L845.4,987.5 L847.4,986.7 L849.4,987.2 L851.4,986.4 L853.4,986.8 L855.4,986.0 L857.4,986.6 L859.4,985.7 L861.4,986.3 L863.4,985.6 L865.4,986.0 L867.4,985.3 L869.4,985.8 L871.4,985.0 L873.4,985.4 L875.4,984.8 L877.4,985.3 L879.4,984.5 L881.4,984.9 L883.4,984.2 L885.4,984.7 L887.4,983.9 L889.4,984.5 L891.4,983.7 L893.4,984.1 L895.4,983.6 L897.4,984.0 L899.4,983.4 L901.4,983.9 L903.4,983.1 L905.4,983.5 L907.4,982.9 L909.4,983.3 L911.4,982.6 L913.4,983.2 L915.4,982.4 L917.4,982.8 L919.4,982.2 L921.4,982.6 L923.4,981.9 L925.4,982.4 L927.4,981.8 L929.4,982.2 L931.4,981.4 L933.4,981.9 L935.4,981.2 L937.4,981.8 L939.4,981.0 L941.4,981.5 L943.4,980.8 L945.4,981.4 L947.4,980.6 L949.4,981.1 L951.4,980.3 L953.4,980.8 L955.4,980.2 L957.4,980.7 L959.4,980.0 L961.4,980.4 L963.4,979.6 L965.4,980.1 L967.4,979.3 L969.4,979.9 L971.4,979.2 L973.4,979.7 L975.4,979.0 L977.4,979.4 L979.4,978.8 L981.4,979.2 L983.4,978.5 L985.4,979.0 L987.4,978.2 L989.4,978.7 L991.4,978.0 L993.4,978.4 L995.4,977.9 L997.4,978.3 L999.4,977.7 L1001.4,978.1 L1003.4,977.3 L1005.4,977.9 L1007.4,977.1 L1009.4,977.6 L1011.4,977.1 L1013.4,977.5 L1015.4,976.7 L1017.4,977.3 L1019.4,976.5 L1021.4,977.1 L1023.4,976.3 L1025.4,976.9 L1027.4,976.3 L1029.4,976.7 L1031.4,976.1 L1033.4,976.7 L1035.4,975.9 L1037.4,976.5 L1039.4,975.8 L1041.4,976.5 L1043.4,975.8 L1045.4,976.3 L1047.4,975.6 L1049.4,976.2 L1051.4,975.6 L1053.4,976.1 L1055.4,975.6 L1057.4,976.1 L1059.4,975.5 L1061.4,976.0 L1063.4,975.4 L1065.4,975.9 L1067.4,975.3 L1069.4,975.8 L1071.4,975.1 L1073.4,975.8 L1075.4,975.1 L1077.4,975.8 L1079.4,975.1 L1081.4,975.6 L1083.4,975.0 L1085.4,975.6 L1087.4,975.0 L1089.4,975.6 L1091.4,975.1 L1093.4,975.6 L1095.4,975.1 L1097.4,975.8 L1099.4,975.2 L1101.4,976.0 L1103.4,975.4 L1105.4,976.0 L1107.4,975.6 L1109.4,976.2 L1111.4,975.7 L1113.4,976.4 L1115.4,976.0 L1117.4,976.6 L1119.4,976.1 L1121.4,976.8 L1123.4,976.2 L1125.4,976.9 L1127.4,976.2 L1129.4,976.9 L1131.4,976.4 L1133.4,977.0 L1135.4,976.4 L1137.4,977.0 L1139.4,976.4 L1141.4,976.9 L1143.4,976.3 L1145.4,976.9 L1147.4,976.3 L1149.4,976.9 L1151.4,976.4 L1153.4,977.0 L1155.4,976.3 L1157.4,976.9 L1159.4,976.3 L1161.4,976.9 L1163.4,976.3 L1165.4,976.9 L1167.4,976.3 L1169.4,976.9 L1171.4,976.3 L1173.4,976.9 L1175.4,976.4 L1177.4,977.0 L1179.4,976.4 L1181.4,976.8 L1183.4,976.3 L1185.4,976.8 L1187.4,976.3 L1189.4,976.8 L1191.4,976.4 L1193.4,976.8 L1195.4,976.1 L1197.4,976.8 L1199.4,976.1 L1201.4,976.7 L1203.4,976.2 L1205.4,976.6 L1207.4,975.9 L1209.4,976.6 L1211.4,975.9 L1213.4,976.4 L1215.4,975.9 L1217.4,976.4 L1219.4,975.9 L1221.4,976.2 L1223.4,975.6 L1225.4,976.1 L1227.4,975.5 L1229.4,976.0 L1231.4,975.2 L1233.4,975.9 L1235.4,975.3 L1237.4,975.8 L1239.4,975.1 L1241.4,975.6 L1243.4,975.0 L1245.4,975.5 L1247.4,974.9 L1249.4,975.4 L1251.4,974.7 L1253.4,975.3 L1255.4,974.6 L1257.4,975.1 L1259.4,974.5 L1261.4,975.2 L1263.4,974.5 L1265.4,974.9 L1267.4,974.2 L1269.4,974.7 L1271.4,974.2 L1273.4,974.7 L1275.4,974.0 L1277.4,974.5 L1279.4,973.8 L1281.4,974.4 L1283.4,973.7 L1285.4,974.3 L1287.4,973.6 L1289.4,974.1 L1291.4,973.2 L1293.4,973.8 L1295.4,973.0 L1297.4,973.5 L1299.4,972.8 L1301.4,973.2 L1303.4,972.5 L1305.4,973.0 L1307.4,972.2 L1309.4,972.7 L1311.4,971.9 L1313.4,972.3 L1315.4,971.6 L1317.4,972.0 L1319.4,971.3 L1321.4,971.8 L1323.4,971.0 L1325.4,971.6 L1327.4,970.8 L1329.4,971.3 L1331.4,970.5 L1333.4,970.9 L1335.4,970.2 L1337.4,970.6 L1339.4,969.9 L1341.4,970.4 L1343.4,969.7 L1345.4,970.1 L1347.4,969.4 L1349.4,969.8 L1351.4,969.2 L1353.4,969.6 L1355.4,968.9 L1357.4,969.5 L1359.4,968.7 L1361.4,969.2 L1363.4,968.6 L1365.4,968.9 L1367.4,968.3 L1369.4,968.7 L1371.4,968.2 L1373.4,968.6 L1375.4,967.9 L1377.4,968.5 L1379.4,967.7 L1381.4,968.2 L1383.4,967.6 L1385.4,968.0 L1387.4,967.3 L1389.4,967.8 L1391.4,967.0 L1393.4,967.6 L1395.4,966.9 L1397.4,967.5 L1399.4,966.8 L1401.4,967.3 L1403.4,966.7 L1405.4,967.2 L1407.4,966.5 L1409.4,967.0 L1411.4,966.3 L1413.4,966.8 L1415.4,966.3 L1417.4,966.7 L1419.4,966.2 L1421.4,966.6 L1423.4,965.9 L1425.4,966.4 L1427.4,965.8 L1429.4,966.3 L1431.4,965.7 L1433.4,966.1 L1435.4,965.5 L1437.4,966.0 L1439.4,965.3 L1441.4,965.7 L1443.4,965.1 L1445.4,965.6 L1447.4,964.9 L1449.4,965.5 L1451.4,964.9 L1453.4,965.4 L1455.4,964.9 L1457.4,965.4 L1459.4,964.8 L1461.4,965.2 L1463.4,964.7 L1465.4,965.2 L1467.4,964.7 L1469.4,965.2 L1471.4,964.6 L1473.4,965.2 L1475.4,964.7 L1477.4,965.3 L1479.4,964.7 L1481.4,965.4 L1483.4,964.8 L1485.4,965.4 L1487.4,964.7 L1489.4,965.4 L1491.4,964.6 L1493.4,965.3 L1495.4,964.7 L1497.4,965.4 L1499.4,964.7 L1501.4,965.3 L1503.4,964.8 L1505.4,965.3 L1507.4,964.8 L1509.4,965.3 L1511.4,964.8 L1513.4,965.5 L1515.4,964.9 L1517.4,965.6 L1519.4,965.1 L1521.4,965.9 L1523.4,965.4 L1525.4,966.1 L1527.4,965.7 L1529.4,966.4 L1531.4,966.0 L1533.4,966.7 L1535.4,966.2 L1537.4,967.1 L1539.4,966.7 L1541.4,967.5 L1543.4,967.2 L1545.4,968.1 L1547.4,967.7 L1549.4,968.6 L1551.4,968.2 L1553.4,969.0 L1555.4,968.7 L1557.4,969.5 L1559.4,969.0 L1561.4,969.8 L1563.4,969.4 L1565.4,970.1 L1567.4,970.0" stroke="#1a6fdf" stroke-width="10"/>
<path d="M437.5,1038.3 L439.5,1036.3 L441.5,1035.4 L443.5,1033.7 L445.5,1033.6 L447.5,1032.5 L449.5,1032.6 L451.5,1031.6 L453.5,1031.8 L455.5,1030.9 L457.5,1031.2 L459.5,1030.3 L461.5,1030.7 L463.5,1029.8 L465.5,1030.1 L467.5,1029.2 L469.5,1029.6 L471.5,1028.7 L473.5,1029.1 L475.5,1028.3 L477.5,1028.8 L479.5,1027.9 L481.5,1028.3 L483.5,1027.4 L485.5,1028.0 L487.5,1027.1 L489.5,1027.6 L491.5,1026.7 L493.5,1027.1 L495.5,1026.2 L497.5,1026.6 L499.5,1025.8 L501.5,1026.2 L503.5,1025.4 L505.5,1025.9 L507.5,1025.2 L509.5,1025.6 L511.5,1025.0 L513.5,1025.3 L515.5,1024.5 L517.5,1025.0 L519.5,1024.3 L521.5,1024.9 L523.5,1024.2 L525.5,1024.8 L527.5,1024.2 L529.5,1024.6 L531.5,1023.9 L533.5,1024.4 L535.5,1023.9 L537.5,1024.3 L539.5,1023.7 L541.5,1024.1 L543.5,1023.4 L545.5,1024.0 L547.5,1023.4 L549.5,1023.9 L551.5,1023.2 L553.5,1023.7 L555.5,1023.0 L557.5,1023.6 L559.5,1022.8 L561.5,1023.4 L563.5,1022.6 L565.5,1023.1 L567.5,1022.5 L569.5,1022.9 L571.5,1022.0 L573.5,1022.6 L575.5,1021.8 L577.5,1022.3 L579.5,1021.5 L581.5,1022.1 L583.5,1021.3 L585.5,1021.9 L587.5,1021.1 L589.5,1021.7 L591.5,1020.8 L593.5,1021.3 L595.5,1020.6 L597.5,1021.1 L599.5,1020.4 L601.5,1020.9 L603.5,1020.3 L605.5,1020.8 L607.5,1020.1 L609.5,1020.7 L611.5,1019.9 L613.5,1020.4 L615.5,1019.8 L617.5,1020.3 L619.5,1019.7 L621.5,1020.1 L623.5,1019.6 L625.5,1019.9 L627.5,1019.3 L629.5,1019.8 L631.5,1019.1 L633.5,1019.7 L635.5,1019.0 L637.5,1019.5 L639.5,1018.8 L641.5,1019.4 L643.5,1018.7 L645.5,1019.1 L647.5,1018.3 L649.5,1018.8 L651.5,1018.2 L653.5,1018.6 L655.5,1017.8 L657.5,1018.3 L659.5,1017.6 L661.5,1018.1 L663.5,1017.4 L665.5,1017.9 L667.5,1017.2 L669.5,1017.7 L671.5,1017.0 L673.5,1017.5 L675.5,1016.7 L677.5,1017.3 L679.5,1016.6 L681.5,1017.2 L683.5,1016.5 L685.5,1017.0 L687.5,1016.3 L689.5,1016.8 L691.5,1016.2 L693.5,1016.7 L695.5,1016.0 L697.5,1016.6 L699.5,1015.8 L701.5,1016.2 L703.5,1015.5 L705.5,1016.1 L707.5,1015.4 L709.5,1015.8 L711.5,1015.1 L713.5,1015.5 L715.5,1014.8 L717.5,1015.4 L719.5,1014.5 L721.5,1015.1 L723.5,1014.4 L725.5,1014.8 L727.5,1014.0 L729.5,1014.5 L731.5,1013.7 L733.5,1014.2 L735.5,1013.4 L737.5,1014.0 L739.5,1013.2 L741.5,1013.5 L743.5,1012.8 L745.5,1013.2 L747.5,1012.6 L749.5,1013.0 L751.5,1012.3 L753.5,1012.8 L755.5,1012.2 L757.5,1012.6 L759.5,1012.0 L761.5,1012.2 L763.5,1011.6 L765.5,1012.1 L767.5,1011.3 L769.5,1011.8 L771.5,1011.1 L773.5,1011.5 L775.5,1010.9 L777.5,1011.4 L779.5,1010.6 L781.5,1011.1 L783.5,1010.4 L785.5,1011.0 L787.5,1010.2 L789.5,1010.7 L791.5,1010.1 L793.5,1010.6 L795.5,1009.8 L797.5,1010.3 L799.5,1009.6 L801.5,1010.1 L803.5,1009.5 L805.5,1009.8 L807.5,1009.1 L809.5,1009.6 L811.5,1009.1 L813.5,1009.5 L815.5,1008.8 L817.5,1009.3 L819.5,1008.7 L821.5,1009.1 L823.5,1008.5 L825.5,1009.0 L827.5,1008.5 L829.5,1008.9 L831.5,1008.4 L833.5,1008.9 L835.5,1008.2 L837.5,1008.8 L839.5,1008.2 L841.5,1008.7 L843.5,1008.2 L845.4,1008.6 L847.4,1008.1 L849.4,1008.6 L851.4,1008.2 L853.4,1008.7 L855.4,1008.0 L857.4,1008.5 L859.4,1008.0 L861.4,1008.6 L863.4,1007.9 L865.4,1008.5 L867.4,1007.8 L869.4,1008.4 L871.4,1007.8 L873.4,1008.4 L875.4,1007.8 L877.4,1008.4 L879.4,1007.8 L881.4,1008.2 L883.4,1007.6 L885.4,1008.3 L887.4,1007.7 L889.4,1008.4 L891.4,1007.7 L893.4,1008.4 L895.4,1007.8 L897.4,1008.6 L899.4,1008.0 L901.4,1008.6 L903.4,1008.0 L905.4,1008.7 L907.4,1008.3 L909.4,1008.9 L911.4,1008.3 L913.4,1008.9 L915.4,1008.5 L917.4,1009.1 L919.4,1008.6 L921.4,1009.4 L923.4,1008.8 L925.4,1009.6 L927.4,1009.1 L929.4,1009.8 L931.4,1009.3 L933.4,1010.0 L935.4,1009.8 L937.4,1010.4 L939.4,1010.1 L941.4,1010.8 L943.4,1010.3 L945.4,1011.1 L947.4,1010.7 L949.4,1011.5 L951.4,1011.0 L953.4,1011.9 L955.4,1011.5 L957.4,1012.4 L959.4,1012.1 L961.4,1012.9 L963.4,1012.7 L965.4,1013.6 L967.4,1013.3 L969.4,1014.3 L971.4,1014.1 L973.4,1015.1 L975.4,1015.1 L977.4,1016.1 L979.4,1016.1 L981.4,1017.1 L983.4,1017.2 L985.4,1018.4 L987.4,1018.5 L989.4,1019.8 L991.4,1020.0 L993.4,1021.3 L995.4,1021.3 L997.4,1022.7 L999.4,1022.8 L1001.4,1024.0 L1003.4,1024.1 L1005.4,1025.3 L1007.4,1025.3 L1009.4,1026.4 L1011.4,1026.2 L1013.4,1027.2 L1015.4,1027.2 L1017.4,1028.0 L1019.4,1027.8 L1021.4,1028.6 L1023.4,1028.2 L1025.4,1028.9 L1027.4,1028.5 L1029.4,1029.2 L1031.4,1028.7 L1033.4,1029.3 L1035.4,1028.8 L1037.4,1029.4 L1039.4,1028.8 L1041.4,1029.2 L1043.4,1028.5 L1045.4,1029.0 L1047.4,1028.3 L1049.4,1028.7 L1051.4,1027.9 L1053.4,1028.5 L1055.4,1027.5 L1057.4,1028.1 L1059.4,1027.2 L1061.4,1027.8 L1063.4,1027.0 L1065.4,1027.5 L1067.4,1026.7 L1069.4,1027.3 L1071.4,1026.5 L1073.4,1027.1 L1075.4,1026.3 L1077.4,1026.7 L1079.4,1026.0 L1081.4,1026.6 L1083.4,1025.9 L1085.4,1026.3 L1087.4,1025.6 L1089.4,1026.1 L1091.4,1025.5 L1093.4,1025.9 L1095.4,1025.1 L1097.4,1025.6 L1099.4,1024.9 L1101.4,1025.5 L1103.4,1024.9 L1105.4,1025.3 L1107.4,1024.6 L1109.4,1025.1 L1111.4,1024.4 L1113.4,1024.8 L1115.4,1024.1 L1117.4,1024.7 L1119.4,1023.9 L1121.4,1024.5 L1123.4,1023.8 L1125.4,1024.2 L1127.4,1023.5 L1129.4,1024.0 L1131.4,1023.2 L1133.4,1023.8 L1135.4,1023.1 L1137.4,1023.6 L1139.4,1022.9 L1141.4,1023.4 L1143.4,1022.7 L1145.4,1023.1 L1147.4,1022.4 L1149.4,1022.8 L1151.4,1022.2 L1153.4,1022.6 L1155.4,1022.0 L1157.4,1022.3 L1159.4,1021.7 L1161.4,1022.2 L1163.4,1021.5 L1165.4,1022.0 L1167.4,1021.3 L1169.4,1021.8 L1171.4,1021.2 L1173.4,1021.6 L1175.4,1020.9 L1177.4,1021.5 L1179.4,1020.7 L1181.4,1021.3 L1183.4,1020.7 L1185.4,1021.3 L1187.4,1020.5 L1189.4,1021.2 L1191.4,1020.4 L1193.4,1021.0 L1195.4,1020.1 L1197.4,1020.8 L1199.4,1020.0 L1201.4,1020.5 L1203.4,1019.8 L1205.4,1020.3 L1207.4,1019.4 L1209.4,1019.8 L1211.4,1019.0 L1213.4,1019.3 L1215.4,1018.4 L1217.4,1018.7 L1219.4,1017.8 L1221.4,1018.0 L1223.4,1017.2 L1225.4,1017.4 L1227.4,1016.5 L1229.4,1016.8 L1231.4,1015.7 L1233.4,1015.9 L1235.4,1014.9 L1237.4,1015.1 L1239.4,1014.1 L1241.4,1014.3 L1243.4,1013.3 L1245.4,1013.4 L1247.4,1012.3 L1249.4,1012.5 L1251.4,1011.4 L1253.4,1011.5 L1255.4,1010.6 L1257.4,1010.8 L1259.4,1009.8 L1261.4,1009.9 L1263.4,1008.8 L1265.4,1009.1 L1267.4,1008.0 L1269.4,1008.3 L1271.4,1007.1 L1273.4,1007.4 L1275.4,1006.4 L1277.4,1006.5 L1279.4,1005.6 L1281.4,1005.6 L1283.4,1004.7 L1285.4,1004.8 L1287.4,1003.8 L1289.4,1004.0 L1291.4,1003.1 L1293.4,1003.4 L1295.4,1002.3 L1297.4,1002.4 L1299.4,1001.4 L1301.4,1001.7 L1303.4,1000.6 L1305.4,1000.8 L1307.4,999.7 L1309.4,1000.0 L1311.4,998.8 L1313.4,999.0 L1315.4,998.0 L1317.4,998.2 L1319.4,997.1 L1321.4,997.5 L1323.4,996.5 L1325.4,996.6 L1327.4,995.6 L1329.4,996.0 L1331.4,995.2 L1333.4,995.4 L1335.4,994.6 L1337.4,994.9 L1339.4,994.0 L1341.4,994.3 L1343.4,993.4 L1345.4,993.6 L1347.4,992.5 L1349.4,992.6 L1351.4,991.4 L1353.4,990.7 L1355.4,988.7 L1357.4,988.6 L1359.4,987.9 L1361.4,988.2 L1363.4,987.6 L1365.4,988.2 L1367.4,987.6 L1369.4,988.1 L1371.4,987.4 L1373.4,987.9 L1375.4,987.4 L1377.4,988.0 L1379.4,987.3 L1381.4,987.7 L1383.4,987.1 L1385.4,987.5 L1387.4,986.8 L1389.4,987.3 L1391.4,986.6 L1393.4,987.2 L1395.4,986.5 L1397.4,987.1 L1399.4,986.3 L1401.4,986.9 L1403.4,986.2 L1405.4,986.8 L1407.4,986.0 L1409.4,986.6 L1411.4,985.8 L1413.4,986.4 L1415.4,985.7 L1417.4,986.2 L1419.4,985.5 L1421.4,986.1 L1423.4,985.4 L1425.4,986.0 L1427.4,985.2 L1429.4,985.9 L1431.4,985.2 L1433.4,985.8 L1435.4,985.2 L1437.4,985.7 L1439.4,985.0 L1441.4,985.5 L1443.4,984.9 L1445.4,985.3 L1447.4,984.8 L1449.4,985.2 L1451.4,984.6 L1453.4,985.1 L1455.4,984.5 L1457.4,985.1 L1459.4,984.4 L1461.4,985.0 L1463.4,984.3 L1465.4,984.9 L1467.4,984.3 L1469.4,984.8 L1471.4,984.2 L1473.4,984.7 L1475.4,984.2 L1477.4,984.7 L1479.4,984.1 L1481.4,984.5 L1483.4,983.9 L1485.4,984.6 L1487.4,983.9 L1489.4,984.6 L1491.4,983.9 L1493.4,984.5 L1495.4,983.8 L1497.4,984.5 L1499.4,983.9 L1501.4,984.6 L1503.4,984.0 L1505.4,984.8 L1507.4,984.2 L1509.4,984.9 L1511.4,984.5 L1513.4,985.1 L1515.4,984.6 L1517.4,985.4 L1519.4,984.8 L1521.4,985.4 L1523.4,984.9 L1525.4,985.7 L1527.4,985.4 L1529.4,986.1 L1531.4,985.7 L1533.4,986.5 L1535.4,986.1 L1537.4,987.0 L1539.4,986.6 L1541.4,987.5 L1543.4,987.0 L1545.4,987.8 L1547.4,987.4 L1549.4,988.2 L1551.4,987.8 L1553.4,988.6 L1555.4,988.1 L1557.4,989.0 L1559.4,988.5 L1561.4,989.3 L1563.4,988.9 L1565.4,989.8 L1567.4,989.7" stroke="#37ad6b" stroke-width="10"/>
</g>
<g shape-rendering="crispEdges">
<rect x="257.500" y="65.000" width="5.000" height="1113.000" fill="#000"/>
<rect x="237.500" y="1153.000" width="1444.167" height="5.000" fill="#000"/>
<rect x="248.333" y="1096.000" width="11.667" height="5.000" fill="#000"/>
<rect x="237.500" y="1038.000" width="22.500" height="5.000" fill="#000"/>
<rect x="248.333" y="981.000" width="11.667" height="5.000" fill="#000"/>
<rect x="237.500" y="924.000" width="22.500" height="5.000" fill="#000"/>
<rect x="248.333" y="867.000" width="11.667" height="5.000" fill="#000"/>
<rect x="237.500" y="809.000" width="22.500" height="5.000" fill="#000"/>
<rect x="248.333" y="752.000" width="11.667" height="5.000" fill="#000"/>
<rect x="237.500" y="695.000" width="22.500" height="5.000" fill="#000"/>
<rect x="248.333" y="638.000" width="11.667" height="5.000" fill="#000"/>
<rect x="237.500" y="580.000" width="22.500" height="5.000" fill="#000"/>
<rect x="248.333" y="523.000" width="11.667" height="5.000" fill="#000"/>
<rect x="237.500" y="466.000" width="22.500" height="5.000" fill="#000"/>
<rect x="248.333" y="408.000" width="11.667" height="5.000" fill="#000"/>
<rect x="237.500" y="351.000" width="22.500" height="5.000" fill="#000"/>
<rect x="248.333" y="294.000" width="11.667" height="5.000" fill="#000"/>
<rect x="237.500" y="237.000" width="22.500" height="5.000" fill="#000"/>
<rect x="248.333" y="179.000" width="11.667" height="5.000" fill="#000"/>
<rect x="237.500" y="122.000" width="22.500" height="5.000" fill="#000"/>
<rect x="248.333" y="65.000" width="11.667" height="5.000" fill="#000"/>
<rect x="345.833" y="1155.000" width="5.000" height="12.000" fill="#000"/>
<rect x="435.000" y="1155.000" width="5.000" height="23.000" fill="#000"/>
<rect x="523.333" y="1155.000" width="5.000" height="12.000" fill="#000"/>
<rect x="612.500" y="1155.000" width="5.000" height="23.000" fill="#000"/>
<rect x="700.833" y="1155.000" width="5.000" height="12.000" fill="#000"/>
<rect x="790.000" y="1155.000" width="5.000" height="23.000" fill="#000"/>
<rect x="878.333" y="1155.000" width="5.000" height="12.000" fill="#000"/>
<rect x="967.500" y="1155.000" width="5.000" height="23.000" fill="#000"/>
<rect x="1055.833" y="1155.000" width="5.000" height="12.000" fill="#000"/>
<rect x="1144.167" y="1155.000" width="5.000" height="23.000" fill="#000"/>
<rect x="1233.333" y="1155.000" width="5.000" height="12.000" fill="#000"/>
<rect x="1321.667" y="1155.000" width="5.000" height="23.000" fill="#000"/>
<rect x="1410.833" y="1155.000" width="5.000" height="12.000" fill="#000"/>
<rect x="1499.167" y="1155.000" width="5.000" height="23.000" fill="#000"/>
<rect x="1588.333" y="1155.000" width="5.000" height="12.000" fill="#000"/>
<rect x="1676.667" y="1155.000" width="5.000" height="23.000" fill="#000"/>
</g>
<text transform="translate(220.83 1170.70) scale(1.035 1)" font-size="51.2" class="b" text-anchor="end">-0.5</text>
<text transform="translate(220.83 1056.14) scale(1.035 1)" font-size="51.2" class="b" text-anchor="end">0.0</text>
<text transform="translate(220.83 941.59) scale(1.035 1)" font-size="51.2" class="b" text-anchor="end">0.5</text>
<text transform="translate(220.83 827.04) scale(1.035 1)" font-size="51.2" class="b" text-anchor="end">1.0</text>
<text transform="translate(220.83 712.48) scale(1.035 1)" font-size="51.2" class="b" text-anchor="end">1.5</text>
<text transform="translate(220.83 597.92) scale(1.035 1)" font-size="51.2" class="b" text-anchor="end">2.0</text>
<text transform="translate(220.83 483.37) scale(1.035 1)" font-size="51.2" class="b" text-anchor="end">2.5</text>
<text transform="translate(220.83 368.81) scale(1.035 1)" font-size="51.2" class="b" text-anchor="end">3.0</text>
<text transform="translate(220.83 254.26) scale(1.035 1)" font-size="51.2" class="b" text-anchor="end">3.5</text>
<text transform="translate(220.83 139.70) scale(1.035 1)" font-size="51.2" class="b" text-anchor="end">4.0</text>
<text transform="translate(259.58 1231.90) scale(1.035 1)" font-size="51.2" class="b" text-anchor="middle">-10</text>
<text transform="translate(437.40 1231.90) scale(1.035 1)" font-size="51.2" class="b" text-anchor="middle">0</text>
<text transform="translate(614.79 1231.90) scale(1.035 1)" font-size="51.2" class="b" text-anchor="middle">10</text>
<text transform="translate(792.19 1231.90) scale(1.035 1)" font-size="51.2" class="b" text-anchor="middle">20</text>
<text transform="translate(969.58 1231.90) scale(1.035 1)" font-size="51.2" class="b" text-anchor="middle">30</text>
<text transform="translate(1146.98 1231.90) scale(1.035 1)" font-size="51.2" class="b" text-anchor="middle">40</text>
<text transform="translate(1324.38 1231.90) scale(1.035 1)" font-size="51.2" class="b" text-anchor="middle">50</text>
<text transform="translate(1501.77 1231.90) scale(1.035 1)" font-size="51.2" class="b" text-anchor="middle">60</text>
<text transform="translate(1679.17 1231.90) scale(1.035 1)" font-size="51.2" class="b" text-anchor="middle">70</text>
<text transform="translate(969.17 1322.60) scale(1.03 1)" font-size="57.5" class="b" text-anchor="middle">Time/h</text>
<text transform="translate(69.00 582.8) scale(1.03 1) rotate(-90)" font-size="57.0" class="b" text-anchor="middle">Cell Index (CI)</text>
<g shape-rendering="crispEdges">
<rect x="367.500" y="35.000" width="454.167" height="3.000" fill="#000"/>
<rect x="367.500" y="323.000" width="454.167" height="2.000" fill="#000"/>
<rect x="367.500" y="35.000" width="2.500" height="290.000" fill="#000"/>
<rect x="819.167" y="35.000" width="2.500" height="290.000" fill="#000"/>
<rect x="376.667" y="71.000" width="133.333" height="9.000" fill="#515151"/>
<rect x="376.667" y="141.000" width="133.333" height="9.000" fill="#f14040"/>
<rect x="376.667" y="211.000" width="133.333" height="9.000" fill="#1a6fdf"/>
<rect x="376.667" y="280.000" width="133.333" height="9.000" fill="#37ad6b"/>
</g>
<text transform="translate(526.08 94.90) scale(1.004 1)" font-size="59" class="r" text-anchor="start">80,000 cells</text>
<text transform="translate(526.08 164.70) scale(1.004 1)" font-size="59" class="r" text-anchor="start">60,000 cells</text>
<text transform="translate(526.08 234.30) scale(1.004 1)" font-size="59" class="r" text-anchor="start">40,000 cells</text>
<text transform="translate(526.08 304.10) scale(1.004 1)" font-size="59" class="r" text-anchor="start">20,000 cells</text>
</svg>
</body>
</html>
